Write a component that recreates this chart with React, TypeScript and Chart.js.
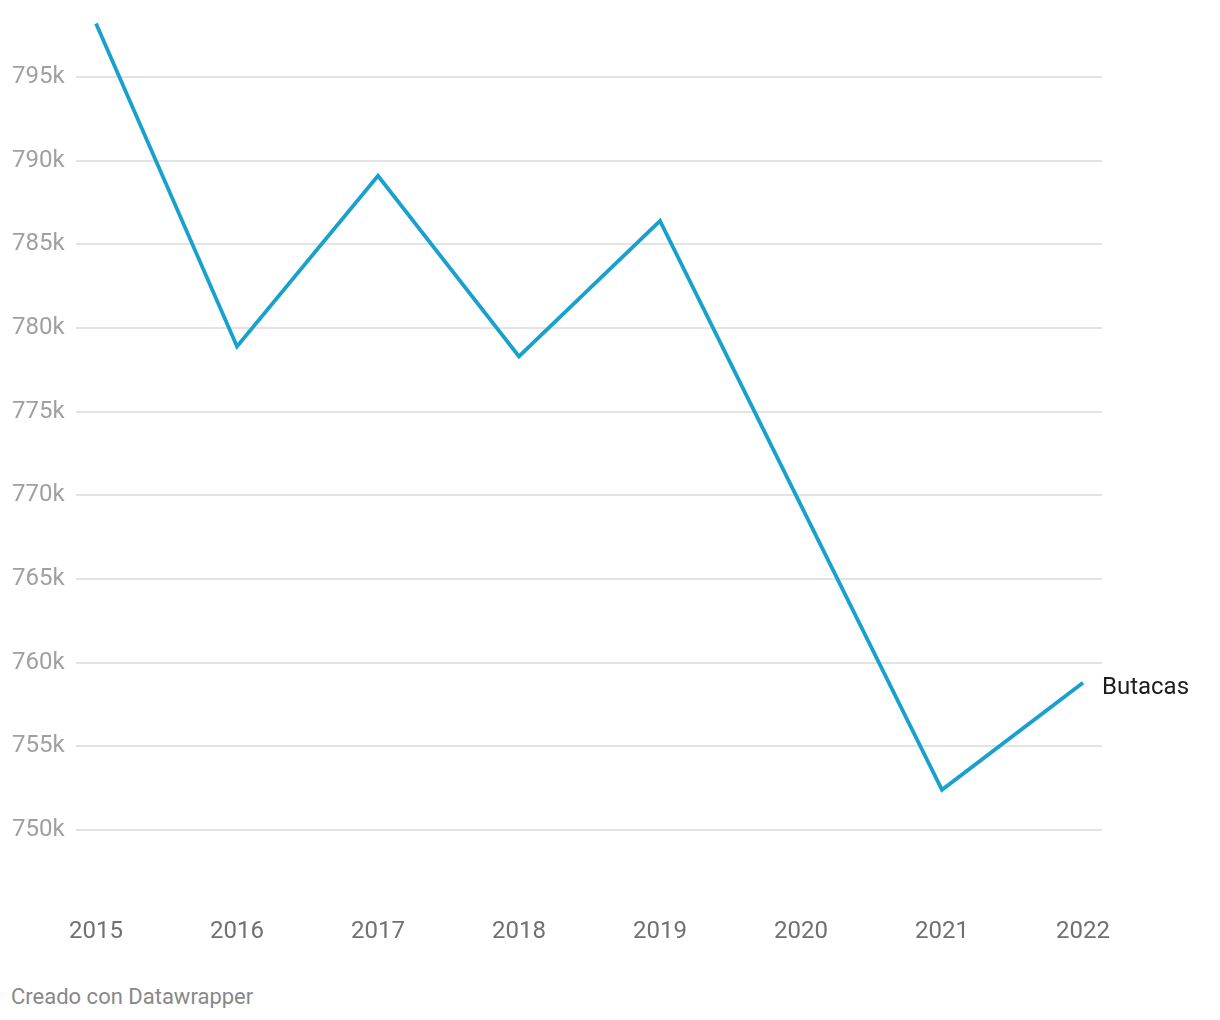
import React, { useEffect, useRef } from "react";
import { Chart, registerables } from "chart.js";

Chart.register(...registerables);

const years: number[] = [2015, 2016, 2017, 2018, 2019, 2020, 2021, 2022];
const butacas: number[] = [798200, 778900, 789100, 778300, 786400, 769400, 752400, 758800];
const yTickValues: number[] = [750000, 755000, 760000, 765000, 770000, 775000, 780000, 785000, 790000, 795000];
const seriesLabel = "Butacas";
const creditText = "Creado con Datawrapper";

const FONT = "Roboto, 'Noto Sans', sans-serif";
const LINE_COLOR = "#18a1cd";

const endLabelPlugin = {
  id: "endLabel",
  afterDatasetsDraw(chart: any) {
    const meta = chart.getDatasetMeta(0);
    const pts = meta.data;
    if (!pts || !pts.length) return;
    const last = pts[pts.length - 1];
    const ctx = chart.ctx;
    ctx.save();
    ctx.font = `24px ${FONT}`;
    ctx.fillStyle = "#1d1d1d";
    ctx.textAlign = "left";
    ctx.textBaseline = "middle";
    ctx.fillText(seriesLabel, last.x + 19, last.y + 5);
    ctx.restore();
  },
};

export default function App() {
  const canvasRef = useRef<HTMLCanvasElement | null>(null);

  useEffect(() => {
    if (!canvasRef.current) return;
    const chart = new Chart(canvasRef.current, {
      type: "line",
      data: {
        datasets: [
          {
            label: seriesLabel,
            data: years.map((y, i) => ({ x: y, y: butacas[i] })),
            borderColor: LINE_COLOR,
            borderWidth: 3.8,
            pointRadius: 0,
            pointHoverRadius: 0,
            tension: 0,
            fill: false,
            borderJoinStyle: "miter",
            borderCapStyle: "butt",
          },
        ],
      },
      options: {
        animation: false,
        responsive: true,
        maintainAspectRatio: false,
        events: [],
        layout: { padding: { top: 2.1, bottom: 14.3, left: 4, right: 110 } },
        plugins: {
          legend: { display: false },
          tooltip: { enabled: false },
          title: { display: false },
        },
        scales: {
          x: {
            type: "linear",
            min: 2014.858,
            max: 2022.135,
            grid: { display: false },
            border: { display: false },
            afterBuildTicks: (scale: any) => {
              scale.ticks = years.map((v) => ({ value: v }));
            },
            afterFit: (scale: any) => {
              scale.height = 40;
              scale.paddingLeft = 0;
              scale.paddingRight = 0;
            },
            ticks: {
              autoSkip: false,
              maxRotation: 0,
              padding: -4,
              color: "#707070",
              font: { family: FONT, size: 24 },
              callback: (v: any) => String(v),
            },
          },
          y: {
            type: "linear",
            min: 745000,
            max: 799000,
            grid: { color: "#e3e3e3", lineWidth: 2, drawTicks: false },
            border: { display: false },
            afterBuildTicks: (scale: any) => {
              scale.ticks = yTickValues.map((v) => ({ value: v }));
            },
            afterFit: (scale: any) => {
              scale.width = 64;
              scale.paddingTop = 0;
              scale.paddingBottom = 0;
            },
            ticks: {
              crossAlign: "far",
              padding: 12,
              color: "#a0a0a0",
              font: { family: FONT, size: 24 },
              callback: (v: any) => `${Math.round(Number(v) / 1000)}k`,
            },
          },
        },
      },
      plugins: [endLabelPlugin],
    });
    return () => chart.destroy();
  }, []);

  return (
    <div style={{ width: 1204 }}>
      <div style={{ position: "relative", width: 1204, height: 960 }}>
        <canvas ref={canvasRef} style={{ display: "block" }} />
      </div>
      <div
        style={{
          height: 40,
          paddingLeft: 3,
          paddingTop: 17,
          boxSizing: "border-box",
          fontFamily: FONT,
          fontSize: 22,
          lineHeight: "24px",
          color: "#888888",
        }}
      >
        {creditText}
      </div>
    </div>
  );
}
